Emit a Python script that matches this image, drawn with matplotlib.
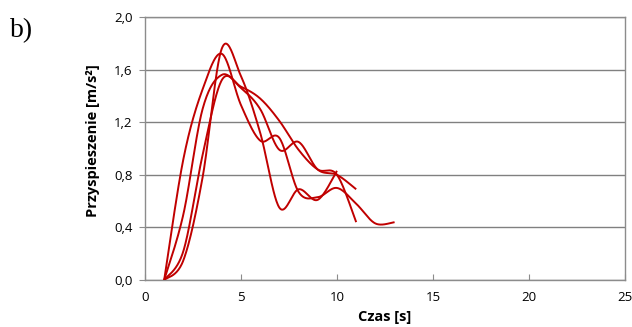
import numpy as np
import matplotlib
matplotlib.use('Agg')
import matplotlib.pyplot as plt
from matplotlib.ticker import FuncFormatter

# time [s] and acceleration [m/s2] for the four runs
t1 = [1, 2, 3, 4, 5, 6, 7, 8, 9, 10, 11]
a1 = [0, 0.22, 0.95, 1.52, 1.47, 1.38, 1.21, 0.99, 0.84, 0.80, 0.44]

t2 = [1, 2, 3, 4, 5, 6, 7, 8, 9, 10, 11]
a2 = [0, 0.50, 1.30, 1.56, 1.46, 1.30, 0.99, 1.05, 0.84, 0.80, 0.69]

t3 = [1, 2, 3, 4, 5, 6, 7, 8, 9, 10, 11, 12, 13]
a3 = [0, 0.92, 1.45, 1.72, 1.33, 1.06, 1.08, 0.67, 0.63, 0.70, 0.58, 0.43, 0.44]

t4 = [1, 2, 3, 4, 5, 6, 7, 8, 9, 10]
a4 = [0, 0.15, 0.78, 1.76, 1.55, 1.12, 0.55, 0.69, 0.61, 0.83]

series = [(t1, a1), (t2, a2), (t3, a3), (t4, a4)]

xticks = [0, 5, 10, 15, 20, 25]
yticks = [0.0, 0.4, 0.8, 1.2, 1.6, 2.0]


def smooth(x, y, n=40):
    # excel-like smoothed line (bezier through the points)
    x = np.asarray(x, float)
    y = np.asarray(y, float)
    px = np.concatenate([[x[0]], x, [x[-1]]])
    py = np.concatenate([[y[0]], y, [y[-1]]])
    s = np.linspace(0, 1, n)
    xs, ys = [], []
    for i in range(len(x) - 1):
        p0 = np.array([px[i], py[i]])
        p1 = np.array([px[i + 1], py[i + 1]])
        p2 = np.array([px[i + 2], py[i + 2]])
        p3 = np.array([px[i + 3], py[i + 3]])
        c1 = p1 + (p2 - p0) / 6
        c2 = p2 - (p3 - p1) / 6
        for k in range(2):
            pts = ((1 - s) ** 3 * p1[k] + 3 * (1 - s) ** 2 * s * c1[k]
                   + 3 * (1 - s) * s ** 2 * c2[k] + s ** 3 * p2[k])
            (xs if k == 0 else ys).append(pts)
    return np.concatenate(xs), np.concatenate(ys)


fig = plt.figure(figsize=(6.32, 3.27), dpi=100)
ax = fig.add_axes([0.2294, 0.1437, 0.7595, 0.8043])

for t, a in series:
    sx, sy = smooth(t, a)
    ax.plot(sx, sy, color='#C00000', lw=1.4, solid_capstyle='butt', zorder=3)

ax.set_xlim(0, 25)
ax.set_ylim(0, 2.0)
ax.set_xticks(xticks)
ax.set_yticks(yticks)
ax.yaxis.set_major_formatter(FuncFormatter(lambda v, p: ('%.1f' % v).replace('.', ',')))
ax.grid(axis='y', color='#808080', lw=1.0, zorder=1)
for sp in ax.spines.values():
    sp.set_color('#8c8c8c')
    sp.set_linewidth(1.0)

ax.tick_params(axis='x', direction='in', length=4, color='#8c8c8c', labelsize=9.5, pad=8)
ax.tick_params(axis='y', direction='out', length=4, color='#8c8c8c', labelsize=9.5, pad=5)
for lab in ax.get_xticklabels() + ax.get_yticklabels():
    lab.set_family('Open Sans')

ax.set_xlabel('Czas [s]', fontsize=10.5, fontweight='bold', family='Open Sans', labelpad=4)
ax.set_ylabel('Przyspieszenie [m/s²]', fontsize=10.5, fontweight='bold', family='Open Sans')
ax.yaxis.set_label_coords(-0.093, 0.53)

fig.text(0.016, 0.887, 'b)', fontsize=20, family='Liberation Serif', va='baseline')

fig.savefig('out.png', dpi=100)
